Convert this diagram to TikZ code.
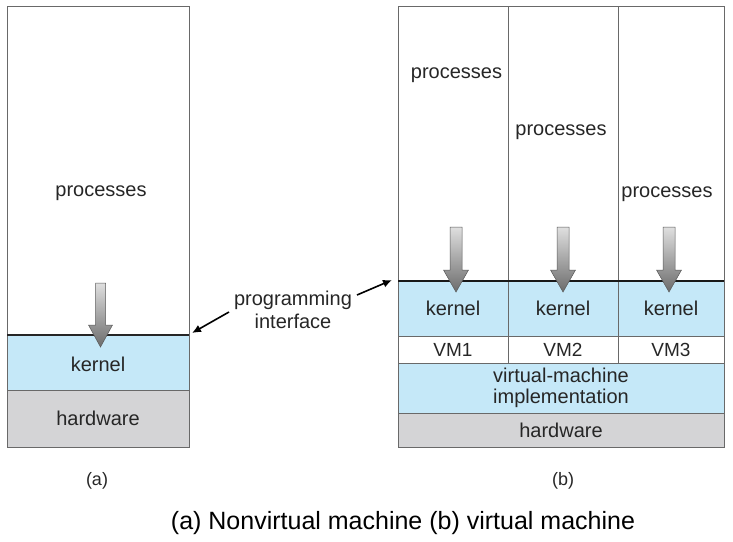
\documentclass[tikz,border=0pt]{standalone}
\usepackage{fontspec}
\setmainfont{Liberation Sans}
\usetikzlibrary{arrows.meta}
\definecolor{kblue}{RGB}{197,232,248}
\definecolor{hgray}{RGB}{212,212,214}
\definecolor{edge}{RGB}{105,105,105}
\definecolor{txt}{RGB}{38,38,38}
\begin{document}
\begin{tikzpicture}[x=1pt,y=-1pt,
  cell/.style={draw=edge, line width=0.9pt, anchor=north west, inner sep=0pt, outer sep=0pt},
  lbl/.style={text=txt, font=\fontsize{20}{21}\selectfont, inner sep=0pt, align=center},
  captext/.style={text=black, inner sep=0pt},
  callarrow/.style={shade, top color=gray!25, bottom color=gray!85!black, draw=gray!70!black, line width=0.5pt},
  piarrow/.style={line width=1.6pt, black, -{Latex[length=9pt,width=8pt]}}
]
\useasboundingbox (0,0) rectangle (733,541);

% ---------- (a) nonvirtual machine ----------
\node[cell, minimum width=182pt, minimum height=329pt] (pa) at (7,6) {};
\node[cell, fill=kblue, minimum width=182pt, minimum height=55pt] (ka) at (7,335) {};
\node[cell, fill=hgray, minimum width=182pt, minimum height=57pt] (ha) at (7,390) {};
\draw[line width=1.4pt, black!85] (pa.south west) -- (pa.south east);
\node[lbl] (tpa) at (101,193) {processes};
\node[lbl] (tka) at ([yshift=-1.5pt]ka.center) {kernel};
\node[lbl] (tha) at (ha.center) {hardware};
\shade[callarrow] (95.5,283) -- (105.5,283) -- (105.5,325) -- (112.5,325) -- (100.5,347)
  -- (88.5,325) -- (95.5,325) -- cycle;

% ---------- (b) virtual machine ----------
\node[cell, minimum width=110pt, minimum height=275pt] (p1) at (398,6) {};
\node[cell, minimum width=110pt, minimum height=275pt] (p2) at (508,6) {};
\node[cell, minimum width=106pt, minimum height=275pt] (p3) at (618,6) {};
\node[cell, fill=kblue, minimum width=110pt, minimum height=55pt] (k1) at (398,281) {};
\node[cell, fill=kblue, minimum width=110pt, minimum height=55pt] (k2) at (508,281) {};
\node[cell, fill=kblue, minimum width=106pt, minimum height=55pt] (k3) at (618,281) {};
\node[cell, minimum width=110pt, minimum height=27pt] (v1) at (398,336) {};
\node[cell, minimum width=110pt, minimum height=27pt] (v2) at (508,336) {};
\node[cell, minimum width=106pt, minimum height=27pt] (v3) at (618,336) {};
\node[cell, fill=kblue, minimum width=326pt, minimum height=50pt] (vmi) at (398,363) {};
\node[cell, fill=hgray, minimum width=326pt, minimum height=34pt] (hb) at (398,413) {};
\draw[line width=2.6pt, black!90] (k1.north west) -- (k3.north east);

\node[lbl] (tp1) at (456.5,75) {processes};
\node[lbl] (tp2) at (561,132) {processes};
\node[lbl] (tp3) at (667,194) {processes};
\node[lbl] (tk1) at (k1.center) {kernel};
\node[lbl] (tk2) at (k2.center) {kernel};
\node[lbl] (tk3) at (k3.center) {kernel};
\node[lbl, font=\fontsize{19}{20}\selectfont] (tv1) at (v1.center) {VM1};
\node[lbl, font=\fontsize{19}{20}\selectfont] (tv2) at (v2.center) {VM2};
\node[lbl, font=\fontsize{19}{20}\selectfont] (tv3) at (v3.center) {VM3};
\node[lbl] (tvmi) at (vmi.center) {virtual-machine\\implementation};
\node[lbl] (thb) at (hb.center) {hardware};

\foreach \cx in {456,563,669}{
  \shade[callarrow] (\cx-6,227) -- (\cx+6,227) -- (\cx+6,270) -- (\cx+12.5,270) -- (\cx,292)
    -- (\cx-12.5,270) -- (\cx-6,270) -- cycle;
}

% ---------- programming interface ----------
\node[lbl, font=\fontsize{20}{22.5}\selectfont] (pi) at (293,310) {programming\\interface};
\coordinate (pil) at (229,312);
\coordinate (pit) at (192,333);
\coordinate (pir) at (357,295);
\coordinate (pib) at (392,280);
\draw[piarrow] (pil) -- (pit);
\draw[piarrow] (pir) -- (pib);

% ---------- labels ----------
\node[lbl, font=\fontsize{18}{20}\selectfont] (la) at (97,481) {(a)};
\node[lbl, font=\fontsize{18}{20}\selectfont] (lb) at (563,481) {(b)};
\node[captext, font=\fontsize{25}{27}\selectfont] (caption) at (403,523) {(a) Nonvirtual machine (b) virtual machine};
\end{tikzpicture}
\end{document}
